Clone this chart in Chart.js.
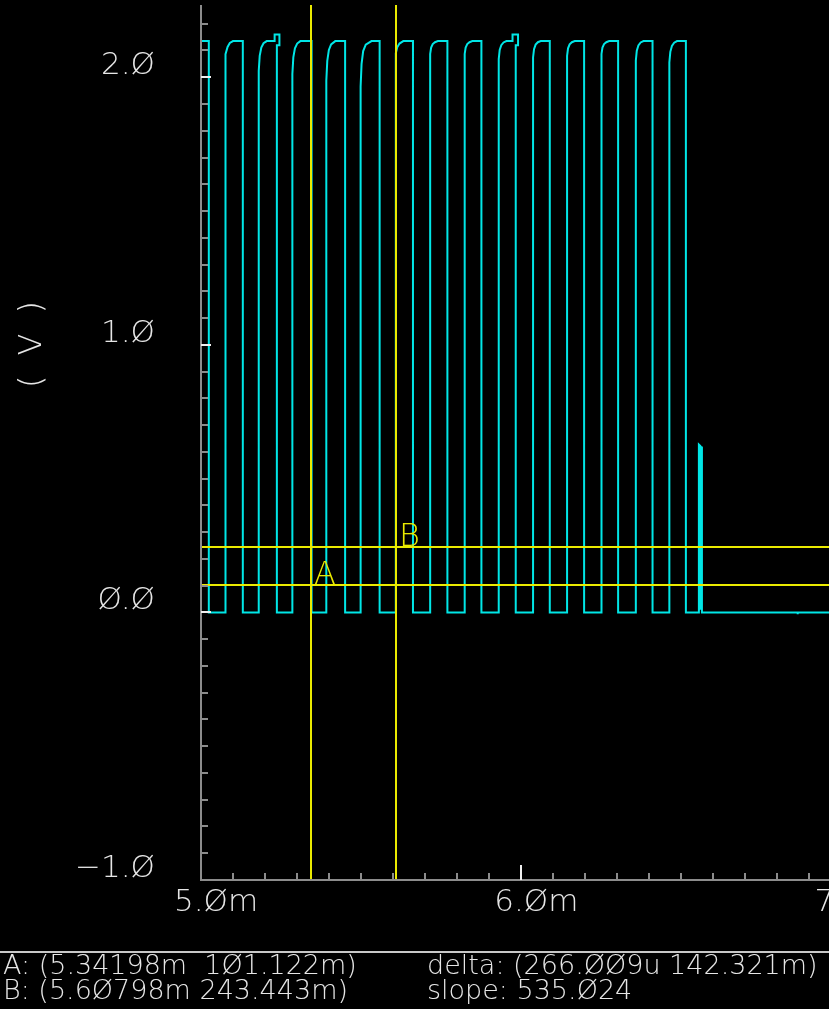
<!DOCTYPE html>
<html>
<head>
<meta charset="utf-8">
<title>Transient (V)</title>
<script src="https://cdn.jsdelivr.net/npm/chart.js@4.4.1/dist/chart.umd.min.js"></script>
<style>
  html, body { margin: 0; padding: 0; background: #000; overflow: hidden; }
  #wrap { position: relative; width: 829px; height: 1009px; }
  #grafico { display: block; }
  #sep { position: absolute; left: 0; top: 951px; width: 829px; height: 2px; background: #c8c8c8; }
  .leitura {
    position: absolute; margin: 0; white-space: pre; color: #e6e6e6;
    font: 200 27px "DejaVu Sans", sans-serif; line-height: 25px;
  }
</style>
</head>
<body>
<div id="wrap">
  <canvas id="grafico" width="829" height="950"></canvas>
  <div id="sep"></div>
  <div class="leitura" style="left:3px; top:952px">A: (5.34198m  1Ø1.122m)</div>
  <div class="leitura" style="left:427px; top:952px">delta: (266.ØØ9u 142.321m)</div>
  <div class="leitura" style="left:3px; top:977px">B: (5.6Ø798m 243.443m)</div>
  <div class="leitura" style="left:427px; top:977px">slope: 535.Ø24</div>
</div>
<script>
(function () {
  "use strict";

  // eixos
  const xTickValues = [5.0, 6.0, 7.0];
  const yTickValues = [-1.0, 0.0, 1.0, 2.0];

  // cursores A e B
  const cursorNames = ["A", "B"];
  const cursorTimeMs = [5.34198, 5.60798];
  const cursorVolts = [0.101122, 0.243443];

  // forma de onda (tempo em ms, tensao em V), um pulso por linha
  const timeMs = [
    5.0000, 5.0244, 5.0244,
    5.0750, 5.0750, 5.0780, 5.0830, 5.0900, 5.1000, 5.1306, 5.1306,
    5.1803, 5.1803, 5.1833, 5.1883, 5.1953, 5.2053, 5.2299, 5.2299, 5.2449, 5.2449, 5.2369, 5.2369,
    5.2853, 5.2853, 5.2883, 5.2933, 5.3003, 5.3103, 5.3453, 5.3453,
    5.3913, 5.3913, 5.3943, 5.3993, 5.4063, 5.4193, 5.4500, 5.4500,
    5.4984, 5.4984, 5.5014, 5.5064, 5.5144, 5.5324, 5.5578, 5.5578,
    5.6078, 5.6078, 5.6088, 5.6128, 5.6198, 5.6318, 5.6619, 5.6619,
    5.7156, 5.7156, 5.7186, 5.7236, 5.7306, 5.7396, 5.7694, 5.7694,
    5.8234, 5.8234, 5.8264, 5.8314, 5.8384, 5.8474, 5.8756, 5.8756,
    5.9297, 5.9297, 5.9327, 5.9377, 5.9447, 5.9537, 5.9728, 5.9728, 5.9900, 5.9900, 5.9828, 5.9828,
    6.0369, 6.0369, 6.0399, 6.0449, 6.0519, 6.0609, 6.0891, 6.0891,
    6.1431, 6.1431, 6.1461, 6.1511, 6.1581, 6.1671, 6.1963, 6.1963,
    6.2506, 6.2506, 6.2536, 6.2586, 6.2656, 6.2746, 6.3025, 6.3025,
    6.3578, 6.3578, 6.3608, 6.3658, 6.3728, 6.3818, 6.4100, 6.4100,
    6.4625, 6.4625, 6.4655, 6.4705, 6.4775, 6.4865, 6.5141, 6.5141,
    6.5547, 6.5547, 6.5592, 6.5592, 6.5600, 6.5600, 6.5640, 6.5642,
    6.8630, 6.8632, 6.8634, 7.0000,
  ];
  const volts = [
    2.135, 2.135, 0,
    0, 2.037, 2.086, 2.113, 2.128, 2.135, 2.135, 0,
    0, 2.024, 2.080, 2.111, 2.127, 2.135, 2.135, 2.160, 2.160, 2.120, 2.120, 0,
    0, 2.012, 2.074, 2.108, 2.126, 2.135, 2.135, 0,
    0, 1.987, 2.061, 2.102, 2.123, 2.135, 2.135, 0,
    0, 1.965, 2.050, 2.098, 2.122, 2.135, 2.135, 0,
    0, 1.900, 2.090, 2.112, 2.126, 2.135, 2.135, 0,
    0, 2.087, 2.111, 2.124, 2.131, 2.135, 2.135, 0,
    0, 2.087, 2.111, 2.124, 2.131, 2.135, 2.135, 0,
    0, 2.068, 2.102, 2.120, 2.130, 2.135, 2.135, 2.160, 2.160, 2.120, 2.120, 0,
    0, 2.074, 2.105, 2.122, 2.131, 2.135, 2.135, 0,
    0, 2.080, 2.108, 2.123, 2.131, 2.135, 2.135, 0,
    0, 2.087, 2.111, 2.124, 2.131, 2.135, 2.135, 0,
    0, 2.062, 2.099, 2.119, 2.130, 2.135, 2.135, 0,
    0, 2.055, 2.095, 2.117, 2.129, 2.135, 2.135, 0,
    0, 0.627, 0.622, 0.010, 0.010, 0.620, 0.617, 0,
    0, -0.007, 0, 0,
  ];

  const CIANO = "#00e6e6";
  const AMARELO = "#eaea00";
  const TEXTO = "#e6e6e6";
  const CINZA = "#8c8c8c";
  const FAMILIA = '"DejaVu Sans", sans-serif';

  function fmt(v) {
    const s = Math.abs(v).toFixed(1).replace(/0/g, "Ø");
    return (v < 0 ? "\u2212" : "") + s;
  }

  function linha(ctx, x1, y1, x2, y2) {
    ctx.beginPath();
    ctx.moveTo(x1, y1);
    ctx.lineTo(x2, y2);
    ctx.stroke();
  }

  // cursores por cima da curva
  const cursores = {
    id: "cursores",
    afterDatasetsDraw(chart) {
      const { ctx, chartArea: a, scales } = chart;
      ctx.save();
      ctx.strokeStyle = AMARELO;
      ctx.fillStyle = AMARELO;
      ctx.lineWidth = 2;
      ctx.font = "200 32px " + FAMILIA;
      ctx.textBaseline = "alphabetic";
      ctx.textAlign = "left";
      cursorNames.forEach((nome, i) => {
        const px = Math.round(scales.x.getPixelForValue(cursorTimeMs[i]));
        const py = Math.round(scales.y.getPixelForValue(cursorVolts[i]));
        linha(ctx, px, a.top, px, a.bottom);
        linha(ctx, a.left, py, a.right, py);
        ctx.fillText(nome, px + 3, py - 1);
      });
      ctx.restore();
    },
    afterDraw(chart) {
      const { ctx, chartArea: a, scales } = chart;
      ctx.save();
      ctx.lineWidth = 2;
      // linhas dos eixos
      ctx.strokeStyle = CINZA;
      linha(ctx, a.left, a.top, a.left, a.bottom + 1);
      linha(ctx, a.left, a.bottom, a.right, a.bottom);
      // marcas do eixo y (0.1 V)
      for (let i = -9; i <= 22; i++) {
        const py = Math.round(scales.y.getPixelForValue(i / 10));
        const maior = i % 10 === 0;
        ctx.strokeStyle = maior ? "#f0f0f0" : CINZA;
        linha(ctx, a.left, py, a.left + (maior ? 10 : 7), py);
      }
      // marcas do eixo x (0.1 ms)
      for (let i = 51; i <= 69; i++) {
        const px = Math.round(scales.x.getPixelForValue(i / 10));
        const maior = i % 10 === 0;
        ctx.strokeStyle = maior ? "#f0f0f0" : CINZA;
        linha(ctx, px, a.bottom, px, a.bottom - (maior ? 15 : 7));
      }
      // titulo do eixo y
      ctx.fillStyle = TEXTO;
      ctx.font = "200 32px " + FAMILIA;
      ctx.letterSpacing = "5px";
      ctx.textAlign = "center";
      ctx.textBaseline = "middle";
      ctx.translate(33, 344);
      ctx.rotate(-Math.PI / 2);
      ctx.fillText("( V )", 2, 0);
      ctx.restore();
    },
  };

  const pontos = timeMs.map((t, i) => ({ x: t, y: volts[i] }));
  const fonteTicks = { family: FAMILIA, size: 31, weight: 200 };

  new Chart(document.getElementById("grafico"), {
    type: "line",
    data: {
      datasets: [
        {
          data: pontos,
          borderColor: CIANO,
          borderWidth: 2,
          pointRadius: 0,
          tension: 0,
          fill: false,
        },
      ],
    },
    options: {
      responsive: false,
      animation: false,
      events: [],
      layout: { padding: { top: 5, left: 0, right: 0, bottom: 0 } },
      plugins: { legend: { display: false }, tooltip: { enabled: false } },
      scales: {
        x: {
          type: "linear",
          min: 5.0,
          max: 6.961,
          afterBuildTicks: (s) => {
            s.ticks = xTickValues.map((v) => ({ value: v }));
          },
          afterFit: (s) => {
            s.height = 70;
            s.paddingLeft = 0;
            s.paddingRight = 0;
          },
          grid: { display: false, drawTicks: false },
          border: { display: false },
          ticks: {
            color: TEXTO,
            font: fonteTicks,
            padding: 4,
            labelOffset: 15,
            autoSkip: false,
            maxRotation: 0,
            callback: (v) => fmt(v) + "m",
          },
        },
        y: {
          type: "linear",
          min: -1.0,
          max: 2.27,
          afterBuildTicks: (s) => {
            s.ticks = yTickValues.map((v) => ({ value: v }));
          },
          afterFit: (s) => {
            s.width = 201;
            s.paddingTop = 0;
            s.paddingBottom = 0;
          },
          grid: { display: false, drawTicks: false },
          border: { display: false },
          ticks: {
            color: TEXTO,
            font: fonteTicks,
            padding: 46,
            labelOffset: -11,
            callback: (v) => fmt(v),
          },
        },
      },
    },
    plugins: [cursores],
  });
})();
</script>
</body>
</html>
